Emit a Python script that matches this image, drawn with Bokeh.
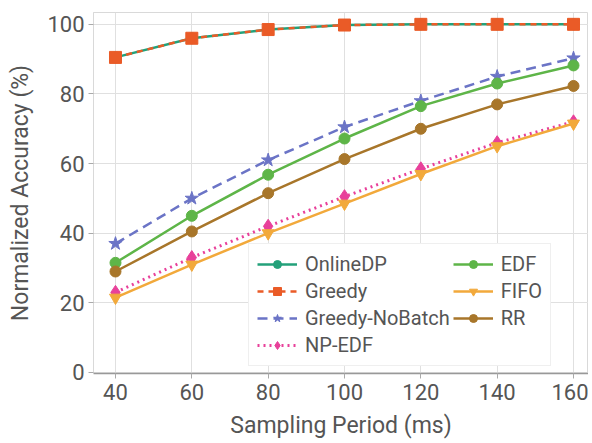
from bokeh.plotting import figure
from bokeh.models import Range1d, Legend, LegendItem, FixedTicker
from bokeh.embed import file_html
from bokeh.resources import INLINE

periods = [40, 60, 80, 100, 120, 140, 160]
online_dp = [90.5, 96.0, 98.5, 99.8, 100.0, 100.0, 100.0]
greedy = [90.5, 96.0, 98.5, 99.8, 100.0, 100.0, 100.0]
greedy_nobatch = [37.0, 50.0, 61.0, 70.5, 78.0, 85.0, 90.3]
np_edf = [23.0, 33.0, 42.0, 50.5, 58.5, 66.0, 72.0]
edf = [31.5, 45.0, 56.8, 67.2, 76.5, 83.0, 88.2]
fifo = [21.5, 31.0, 40.0, 48.5, 57.0, 65.0, 71.5]
rr = [29.0, 40.5, 51.5, 61.3, 70.0, 77.0, 82.3]

x_ticks = [40, 60, 80, 100, 120, 140, 160]
y_ticks = [0, 20, 40, 60, 80, 100]

FONT = "Roboto"

p = figure(width=588, height=442, output_backend="svg", toolbar_location=None,
           x_range=Range1d(34.24, 163.93), y_range=Range1d(-0.3, 103.4),
           min_border_left=93, min_border_right=0, min_border_top=12, min_border_bottom=69)

p.outline_line_color = "#d9d9d9"
p.outline_line_width = 1
p.xgrid.grid_line_color = "#e0e0e0"
p.ygrid.grid_line_color = "#e0e0e0"
p.xaxis.ticker = FixedTicker(ticks=x_ticks)
p.yaxis.ticker = FixedTicker(ticks=y_ticks)
for ax in (p.xaxis[0], p.yaxis[0]):
    ax.major_label_text_font = FONT
    ax.major_label_text_font_size = "22px"
    ax.major_label_text_color = "#555555"
    ax.axis_label_text_font = FONT
    ax.axis_label_text_font_size = "23px"
    ax.axis_label_text_font_style = "normal"
    ax.axis_label_text_color = "#555555"
    ax.minor_tick_line_color = None
    ax.major_tick_line_color = "#aaaaaa"
    ax.major_tick_out = 5
    ax.major_tick_in = 0
p.xaxis.axis_line_color = "#999999"
p.xaxis.axis_line_width = 1.5
p.yaxis.axis_line_color = "#d9d9d9"
p.xaxis.axis_label = "Sampling Period (ms)"
p.yaxis.axis_label = "Normalized Accuracy (%)"
p.xaxis.major_label_standoff = 5
p.yaxis.major_label_standoff = 4
p.xaxis.axis_label_standoff = 9
p.yaxis.axis_label_standoff = 10

c_online = "#23a17a"
c_greedy = "#ea5b27"
c_nb = "#6b74c6"
c_np = "#e8409a"
c_edf = "#5eb548"
c_fifo = "#f2a93b"
c_rr = "#a8762a"

items = []

def series(label, ys, color, marker, size, dash="solid", lw=2.5):
    r1 = p.line(periods, ys, line_color=color, line_width=lw, line_dash=dash)
    r2 = p.scatter(periods, ys, marker=marker, size=size, fill_color=color, line_color=color)
    items.append(LegendItem(label=label, renderers=[r1, r2]))

series("OnlineDP", online_dp, c_online, "circle", 11)
series("Greedy", greedy, c_greedy, "square", 12, dash="6 5")
series("Greedy-NoBatch", greedy_nobatch, c_nb, "star", 14, dash="10 6")
series("NP-EDF", np_edf, c_np, "diamond", 14, dash="2 4", lw=3)
series("EDF", edf, c_edf, "circle", 11)
series("FIFO", fifo, c_fifo, "inverted_triangle", 12)
series("RR", rr, c_rr, "circle", 11)

legend = Legend(items=items, location=(155, 7), nrows=4, orientation="vertical",
                label_text_font=FONT, label_text_font_size="20px", label_text_color="#555555",
                glyph_width=40, glyph_height=20, label_standoff=8, spacing=3,
                padding=8, border_line_color="#e0e0e0", background_fill_alpha=1.0,
                label_height=20)
p.add_layout(legend, "center")

open("out.html", "w").write(file_html(p, INLINE))
